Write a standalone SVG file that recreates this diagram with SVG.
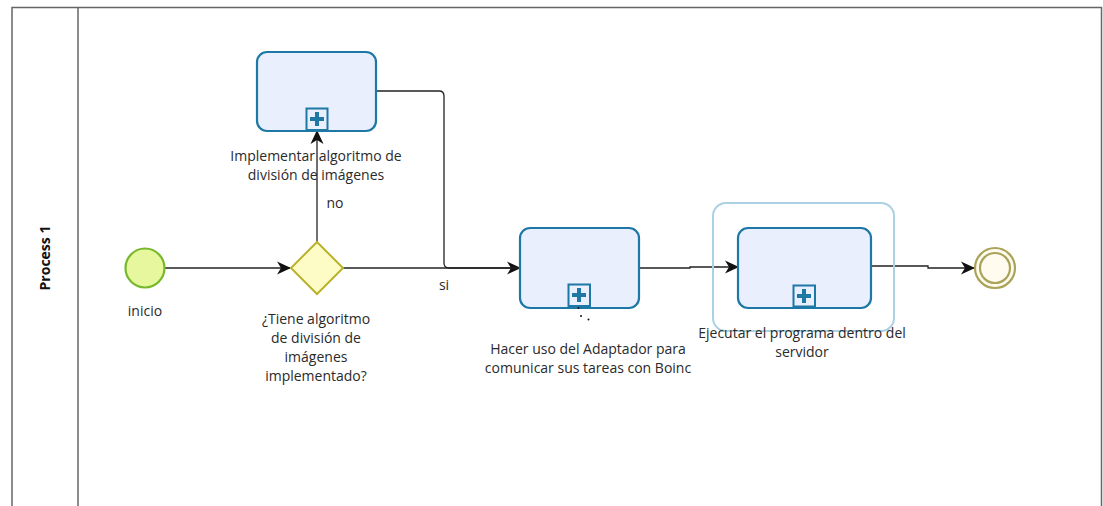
<svg xmlns="http://www.w3.org/2000/svg" width="1103" height="506" viewBox="0 0 1103 506">
<defs>
<marker id="arr" markerWidth="14" markerHeight="14" refX="13" refY="7" orient="auto" markerUnits="userSpaceOnUse">
<path d="M0,0.5 L14,7 L0,13.5 L4,7 z" fill="#111"/>
</marker>
<style>
.lbl{font-family:"Open Sans","Liberation Sans",sans-serif;font-size:14px;fill:#2a2a2a;text-anchor:middle}
.task{fill:#e9effd;stroke:#1e78a6;stroke-width:2.2}
.plus{fill:#e9effd;stroke:#1e78a6;stroke-width:2}
.pm{fill:#1e78a6}
.conn{fill:none;stroke:#222;stroke-width:1.3}
</style>
</defs>
<rect width="1103" height="506" fill="#ffffff"/>
<g id="pool">
<path d="M12,520 L12,7.5 L1101.5,7.5 L1101.5,520" fill="none" stroke="#666" stroke-width="1.5"/>
<line x1="78" y1="7.5" x2="78" y2="520" stroke="#666" stroke-width="1.5"/>
<text transform="translate(50,258) rotate(-90)" style="font-family:'Open Sans','Liberation Sans',sans-serif;font-size:14px;font-weight:bold;fill:#111;text-anchor:middle">Process 1</text>
</g>
<g id="connectors">
<line class="conn" x1="165" y1="268" x2="290" y2="268" marker-end="url(#arr)"/>
<line class="conn" x1="317" y1="242" x2="317" y2="131" marker-end="url(#arr)"/>
<path class="conn" d="M376,91 L439,91 Q444,91 444,96 L444,263 Q444,268 449,268 L520,268" marker-end="url(#arr)"/>
<line class="conn" x1="343" y1="268" x2="520" y2="268"/>
<path class="conn" d="M639,268 L690,268 L690,267 L738,267" marker-end="url(#arr)"/>
<path class="conn" d="M871,266 L928,266 L928,268 L974,268" marker-end="url(#arr)"/>
<text class="lbl" x="335" y="208">no</text>
<text class="lbl" x="444" y="290">si</text>
</g>
<g id="inicio">
<circle cx="145" cy="268" r="19.5" fill="#e6f79e" stroke="#76b82a" stroke-width="2.2"/>
<text class="lbl" x="145" y="316">inicio</text>
</g>
<g id="gateway">
<polygon points="317,242 343,268 317,294 291,268" fill="#fdfbc6" stroke="#b9b22d" stroke-width="2"/>
<text class="lbl" x="316" y="324">¿Tiene algoritmo</text>
<text class="lbl" x="316" y="343">de división de</text>
<text class="lbl" x="316" y="362">imágenes</text>
<text class="lbl" x="316" y="381">implementado?</text>
</g>
<g id="task1">
<rect class="task" x="257" y="52" width="119" height="79" rx="10"/>
<rect class="plus" x="306.5" y="108.5" width="21" height="21.5"/>
<path class="pm" d="M315,112 h4 v5 h5 v4 h-5 v5 h-4 v-5 h-5 v-4 h5 z"/>
<text class="lbl" x="316" y="161">Implementar algoritmo de</text>
<text class="lbl" x="316" y="180">división de imágenes</text>
</g>
<g id="task2">
<rect class="task" x="520" y="228" width="119" height="80" rx="10"/>
<rect class="plus" x="568.5" y="284.5" width="21.5" height="21.5"/>
<path class="pm" d="M577,288 h4 v5 h5 v4 h-5 v5 h-4 v-5 h-5 v-4 h5 z"/>
<circle cx="578.5" cy="308" r="1" fill="#111"/>
<circle cx="581" cy="316" r="1" fill="#111"/>
<circle cx="588.5" cy="319.5" r="1" fill="#111"/>
<text class="lbl" x="588" y="354">Hacer uso del Adaptador para</text>
<text class="lbl" x="588" y="373">comunicar sus tareas con Boinc</text>
</g>
<g id="task3">
<rect x="713" y="203" width="181" height="128" rx="13" fill="none" stroke="#abd2e4" stroke-width="2"/>
<rect class="task" x="738" y="228" width="133" height="80" rx="10"/>
<rect class="plus" x="793.5" y="285.5" width="21.5" height="21"/>
<path class="pm" d="M802,289 h4 v5 h5 v4 h-5 v5 h-4 v-5 h-5 v-4 h5 z"/>
<text class="lbl" x="802" y="338">Ejecutar el programa dentro del</text>
<text class="lbl" x="802" y="357">servidor</text>
</g>
<g id="fin">
<circle cx="995" cy="268" r="20" fill="#fffbef" stroke="#aaa35a" stroke-width="2.2"/>
<circle cx="995" cy="268" r="15" fill="none" stroke="#aaa35a" stroke-width="2.2"/>
</g>
</svg>
